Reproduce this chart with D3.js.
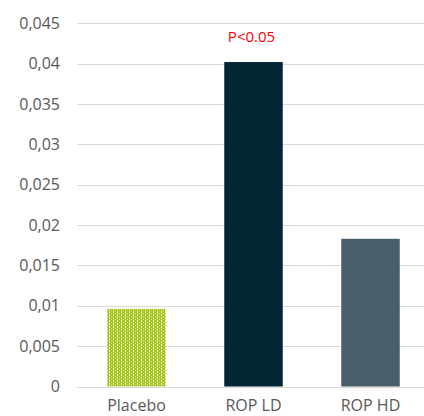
<!DOCTYPE html>
<html>
<head>
<meta charset="utf-8">
<script src="https://cdn.jsdelivr.net/npm/d3@7"></script>
<style>
  body { margin: 0; background: #fff; }
  svg { display: block; font-family: "Open Sans", sans-serif; }
</style>
</head>
<body>
<svg id="chart"></svg>
<script>
// chart values
const categories = ["Placebo", "ROP LD", "ROP HD"];
const values = [0.00962, 0.0402, 0.0183];
const ticks = [0, 0.005, 0.01, 0.015, 0.02, 0.025, 0.03, 0.035, 0.04, 0.045];
const annotation = { category: "ROP LD", text: "P<0.05" };

const width = 424, height = 416;
const svg = d3.select("#chart").attr("width", width).attr("height", height);

// placebo dotted fill
const defs = svg.append("defs");
const pat = defs.append("pattern")
    .attr("id", "dots")
    .attr("patternUnits", "userSpaceOnUse")
    .attr("width", 4).attr("height", 3);
pat.append("rect").attr("width", 4).attr("height", 3).attr("fill", "#a6c51c");
pat.append("rect").attr("x", 1).attr("y", 0).attr("width", 1).attr("height", 1).attr("fill", "#f2f7da");
pat.append("rect").attr("x", 3).attr("y", 1).attr("width", 1).attr("height", 1).attr("fill", "#e3edb2");
pat.append("rect").attr("x", 1).attr("y", 2).attr("width", 1).attr("height", 1).attr("fill", "#f6f9e6");

const x = d3.scaleBand().domain(categories).range([78, 429]).paddingInner(0.5).paddingOuter(0.25);
const y = d3.scaleLinear().domain([0, 0.045]).range([386.5, 23.3]);

const fmt = d => String(d).replace(".", ",");

// gridlines
svg.append("g")
  .selectAll("line")
  .data(ticks)
  .join("line")
    .attr("x1", 77).attr("x2", width)
    .attr("y1", d => Math.round(y(d)) + 0.5).attr("y2", d => Math.round(y(d)) + 0.5)
    .attr("stroke", "#d9d9d9").attr("stroke-width", 1);

// y tick labels
svg.append("g")
  .selectAll("text")
  .data(ticks)
  .join("text")
    .attr("x", 60)
    .attr("y", d => y(d) + 5.5)
    .attr("text-anchor", "end")
    .attr("font-size", 16)
    .attr("fill", "#595959")
    .text(fmt);

const fills = ["url(#dots)", "#022633", "#4a5f69"];

svg.append("g")
  .selectAll("rect")
  .data(values)
  .join("rect")
    .attr("x", (d, i) => x(categories[i]))
    .attr("width", x.bandwidth())
    .attr("y", d => y(d))
    .attr("height", d => y(0) - y(d))
    .attr("fill", (d, i) => fills[i]);

// category labels
svg.append("g")
  .selectAll("text")
  .data(categories)
  .join("text")
    .attr("x", d => x(d) + x.bandwidth() / 2)
    .attr("y", 411)
    .attr("text-anchor", "middle")
    .attr("font-size", 16)
    .attr("fill", "#595959")
    .text(d => d);

// significance label
const ai = categories.indexOf(annotation.category);
svg.append("text")
    .attr("x", x(annotation.category) + x.bandwidth() / 2 - 2)
    .attr("y", y(values[ai]) - 20.5)
    .attr("text-anchor", "middle")
    .attr("font-size", 15)
    .attr("fill", "#ff0000")
    .text(annotation.text);
</script>
</body>
</html>
